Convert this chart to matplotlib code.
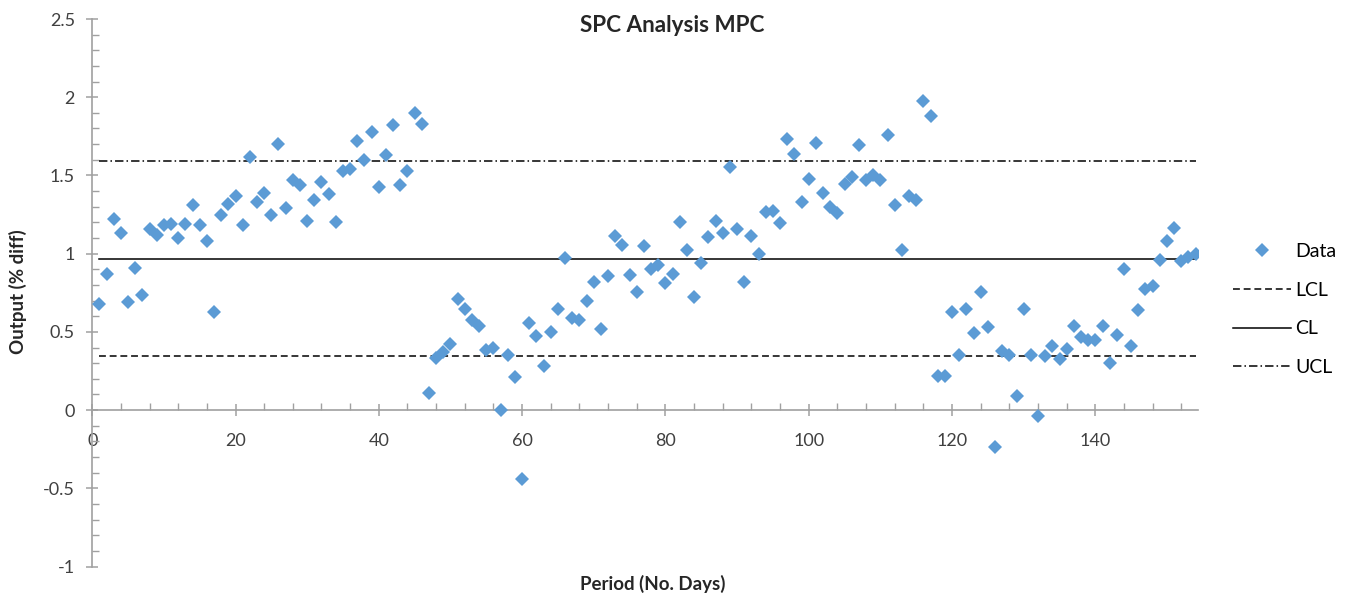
import numpy as np
import matplotlib.pyplot as plt
from matplotlib.ticker import MultipleLocator

plt.rcParams['font.family'] = ['Lato', 'DejaVu Sans']

# daily output values (% diff), days 1..154
days = np.arange(1, 155)
output = [0.68, 0.87, 1.22, 1.13, 0.69, 0.91, 0.735, 1.16, 1.12, 1.18,
          1.19, 1.10, 1.19, 1.31, 1.18, 1.08, 0.63, 1.25, 1.32, 1.37,
          1.18, 1.62, 1.33, 1.385, 1.25, 1.70, 1.29, 1.47, 1.44, 1.21,
          1.34, 1.46, 1.38, 1.20, 1.53, 1.54, 1.72, 1.60, 1.78, 1.425,
          1.63, 1.82, 1.44, 1.53, 1.90, 1.83, 0.11, 0.33, 0.37, 0.42,
          0.71, 0.645, 0.575, 0.54, 0.385, 0.395, 0.00, 0.355, 0.21, -0.44,
          0.555, 0.475, 0.28, 0.50, 0.645, 0.97, 0.59, 0.575, 0.70, 0.82,
          0.52, 0.855, 1.115, 1.055, 0.865, 0.755, 1.05, 0.905, 0.93, 0.81,
          0.87, 1.20, 1.025, 0.725, 0.94, 1.105, 1.21, 1.135, 1.555, 1.155,
          0.82, 1.11, 1.00, 1.265, 1.27, 1.195, 1.73, 1.64, 1.33, 1.48,
          1.705, 1.385, 1.295, 1.26, 1.445, 1.49, 1.695, 1.47, 1.50, 1.47,
          1.76, 1.31, 1.025, 1.37, 1.34, 1.975, 1.88, 0.22, 0.22, 0.625,
          0.35, 0.645, 0.49, 0.755, 0.53, -0.235, 0.38, 0.355, 0.09, 0.645,
          0.355, -0.04, 0.345, 0.41, 0.325, 0.39, 0.535, 0.47, 0.445, 0.445,
          0.535, 0.30, 0.48, 0.905, 0.41, 0.64, 0.775, 0.79, 0.96, 1.08,
          1.165, 0.955, 0.98, 1.00]

lcl = 0.345
cl = 0.965
ucl = 1.59

W, H = 1352, 598
fig = plt.figure(figsize=(W / 100, H / 100), dpi=100)
ax = fig.add_axes([92.2 / W, 1 - 566.5 / H, (1197.8 - 92.2) / W, (566.5 - 19) / H])

ax.plot(days, output, linestyle='none', marker='D', markersize=7.2,
        color='#5B9BD5', markeredgewidth=0, label='Data', zorder=3)
ax.plot([days[0], days[-1]], [lcl, lcl], color='black', lw=1.1,
        dashes=(4.5, 2.5), label='LCL')
ax.plot([days[0], days[-1]], [cl, cl], color='black', lw=1.1, label='CL')
ax.plot([days[0], days[-1]], [ucl, ucl], color='black', lw=1.1,
        dashes=(5.5, 2, 1, 2), label='UCL')

ax.set_xlim(0, 154.3)
ax.set_ylim(-1, 2.5)
ax.xaxis.set_major_locator(MultipleLocator(20))
ax.xaxis.set_minor_locator(MultipleLocator(4))
ax.yaxis.set_major_locator(MultipleLocator(0.5))
ax.yaxis.set_minor_locator(MultipleLocator(0.1))
ax.yaxis.set_major_formatter(plt.FuncFormatter(lambda v, p: f'{v:g}'))

for s in ['top', 'right']:
    ax.spines[s].set_visible(False)
ax.spines['bottom'].set_position(('data', 0))
for s in ['left', 'bottom']:
    ax.spines[s].set_color('#A0A0A0')
    ax.spines[s].set_linewidth(1.2)

ax.tick_params(axis='both', which='major', direction='inout', length=9,
               color='#A0A0A0', width=1.1, labelsize=13, labelcolor='#404040')
ax.tick_params(axis='x', which='minor', direction='in', length=5,
               color='#A0A0A0', width=1.0)
ax.tick_params(axis='y', which='minor', direction='in', length=5,
               color='#A0A0A0', width=1.0)
ax.tick_params(axis='x', which='major', pad=12)
ax.tick_params(axis='y', which='major', pad=8)

fig.text(0.497, 1 - 25 / H, 'SPC Analysis MPC', ha='center', va='center',
         fontsize=16.2, fontweight='bold', color='#262626')
fig.text(18 / W, 1 - 292 / H, 'Output (% diff)', ha='center', va='center',
         rotation=90, fontsize=13.5, fontweight='bold', color='#262626')
fig.text(653 / W, 1 - 584 / H, 'Period (No. Days)', ha='center', va='center',
         fontsize=13.5, fontweight='bold', color='#262626')

ax.legend(loc='upper left', bbox_to_anchor=(1225 / W, 1 - 235 / H),
          bbox_transform=fig.transFigure, frameon=False, fontsize=14,
          handlelength=3.0, handletextpad=0.2, labelspacing=1.12,
          borderaxespad=0)

fig.savefig('out.png', dpi=100)
